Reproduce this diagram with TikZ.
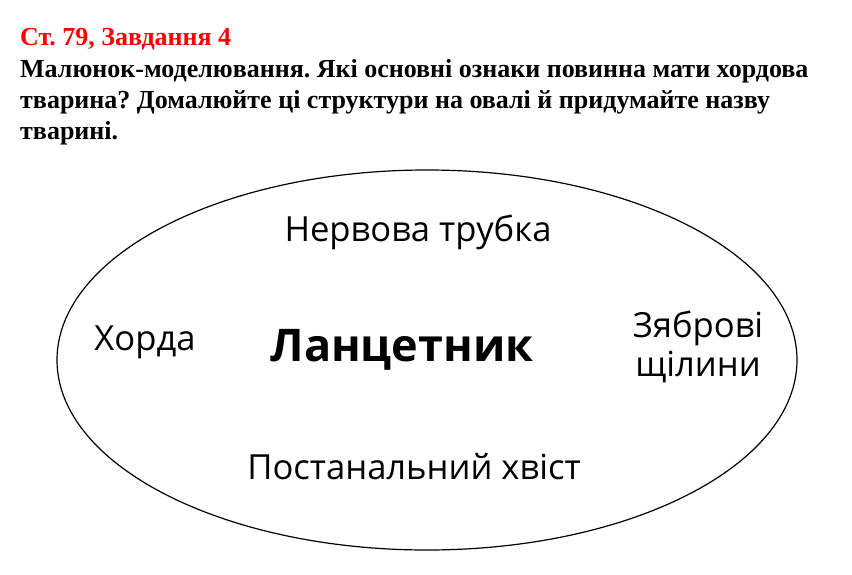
\documentclass[tikz,border=0pt]{standalone}
\usepackage{fontspec}
\setmainfont{Liberation Serif}
\newfontfamily\ovalfont{Open Sans}
\usetikzlibrary{positioning}
\frenchspacing

\tikzset{
  headline/.style={anchor=base west, inner sep=0pt, font=\bfseries\fontsize{26}{26}\selectfont},
  organ/.style={inner sep=0pt, font=\ovalfont\fontsize{34.6}{39}\selectfont, align=center},
  animal/.style={inner sep=0pt, font=\ovalfont\bfseries\fontsize{45}{45}\selectfont}
}

\begin{document}
\begin{tikzpicture}[x=1pt,y=-1pt]
  \useasboundingbox (0,0) rectangle (852,574);
  % task heading
  \node[headline, text=red] (title) at (20,45) {Ст. 79, Завдання 4};
  \node[headline] (line1) at (20,77) {Малюнок-моделювання. Які основні ознаки повинна мати хордова};
  \node[headline] (line2) at (20,108) {тварина? Домалюйте ці структури на овалі й придумайте назву};
  \node[headline] (line3) at (20,139) {тварині.};

  % the oval
  \draw[line width=1.2pt] (427,360) ellipse [x radius=370, y radius=190];

  \node[organ] (tube) at (418,232) {Нервова трубка};
  \node[organ] (chord) at (145,342) {Хорда};
  \node[animal] (name) at (402,350) {Ланцетник};
  \node[organ] (gills) at (698,347) {Зяброві\\щілини};
  \node[organ] (tail) at (414,467) {Постанальний хвіст};
\end{tikzpicture}
\end{document}
